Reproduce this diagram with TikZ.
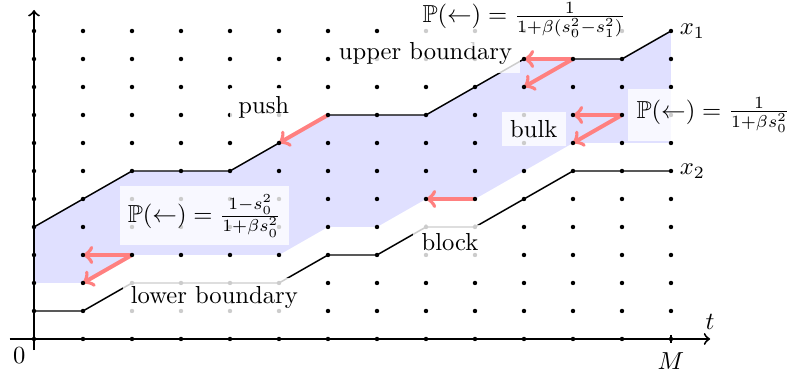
\documentclass[tikz,border=0pt]{standalone}
\usepackage{amsfonts, amssymb, amsmath}
\usepackage{tikz}

\begin{document}
\begin{tikzpicture}[x=0.7cm, y=0.4cm,
    lbl/.style={fill=white, fill opacity=0.8, text opacity=1},
    jump/.style={->, red!50, line width=1.6pt}]
    \useasboundingbox (-0.694, -1.429) rectangle (15.388, 12.107);

    % Region between the two boundaries
    \fill[blue!12] (0,2) -- (1,2) -- (2,3) -- (5,3) -- (6,4) -- (7,4) -- (8,5) -- (9,5) -- (10,6) -- (11,7) -- (13,7)
        -- (13,11) -- (12,10) -- (10,10) -- (9,9) -- (8,8) -- (6,8) -- (5,7) -- (4,6) -- (2,6) -- (1,5) -- (0,4) -- cycle;

    \draw[thick, ->] (-0.5, 0) -- (13.8, 0) node[above] (t) {$t$};
    \draw[thick, ->] (0, -0.4) -- (0, 11.75);
    \draw[thick] (13, 0.15) -- (13, -0.15) node[below] (M) {$M$};
    \node[below left] (zero) at (0, 0) {$0$};

    % The two walks
    \draw[semithick] (0,4) -- (1,5) -- (2,6) -- (4,6) -- (5,7) -- (6,8) -- (8,8) -- (9,9) -- (10,10) -- (12,10) -- (13,11)
        node[right] (x1) {$x_1$};
    \draw[semithick] (0,1) -- (1,1) -- (2,2) -- (5,2) -- (6,3) -- (7,3) -- (8,4) -- (9,4) -- (10,5) -- (11,6) -- (13,6)
        node[right] (x2) {$x_2$};

    % Lattice points
    \foreach \i in {0,...,13}
        \foreach \j in {0,...,11}
            \coordinate (g-\i-\j) at (\i, \j);

    % Moves
    \draw[jump] (g-6-8) -- (g-5-7);
    \draw[jump] (g-11-10) -- (g-10-10);
    \draw[jump] (g-11-10) -- (g-10-9);
    \draw[jump] (g-12-8) -- (g-11-8);
    \draw[jump] (g-12-8) -- (g-11-7);
    \draw[jump] (g-9-5) -- (g-8-5);
    \draw[jump] (g-2-3) -- (g-1-3);
    \draw[jump] (g-2-3) -- (g-1-2);

    \foreach \i in {0,...,13}
        \foreach \j in {0,...,11}
            \fill (g-\i-\j) circle (0.9pt);

    % Labels
    \node[lbl] (push) at (4.69, 8.29) {push};
    \node[lbl] (upper) at (7.99, 10.18) {upper boundary};
    \node[lbl] (pupper) at (10, 11.4) {$\mathbb{P}(\leftarrow) = \frac{1}{1+\beta(s_0^2-s_1^2)}$};
    \node[lbl] (bulk) at (10.2, 7.5) {bulk};
    \node[lbl, anchor=west] (pbulk) at (12.12, 8) {$\mathbb{P}(\leftarrow) = \frac{1}{1+\beta s_0^2}$};
    \node[lbl] (plower) at (3.48, 4.4) {$\mathbb{P}(\leftarrow) = \frac{1-s_0^2}{1+\beta s_0^2}$};
    \node[lbl] (lower) at (3.68, 1.5) {lower boundary};
    \node[lbl] (block) at (8.49, 3.46) {block};
\end{tikzpicture}
\end{document}
